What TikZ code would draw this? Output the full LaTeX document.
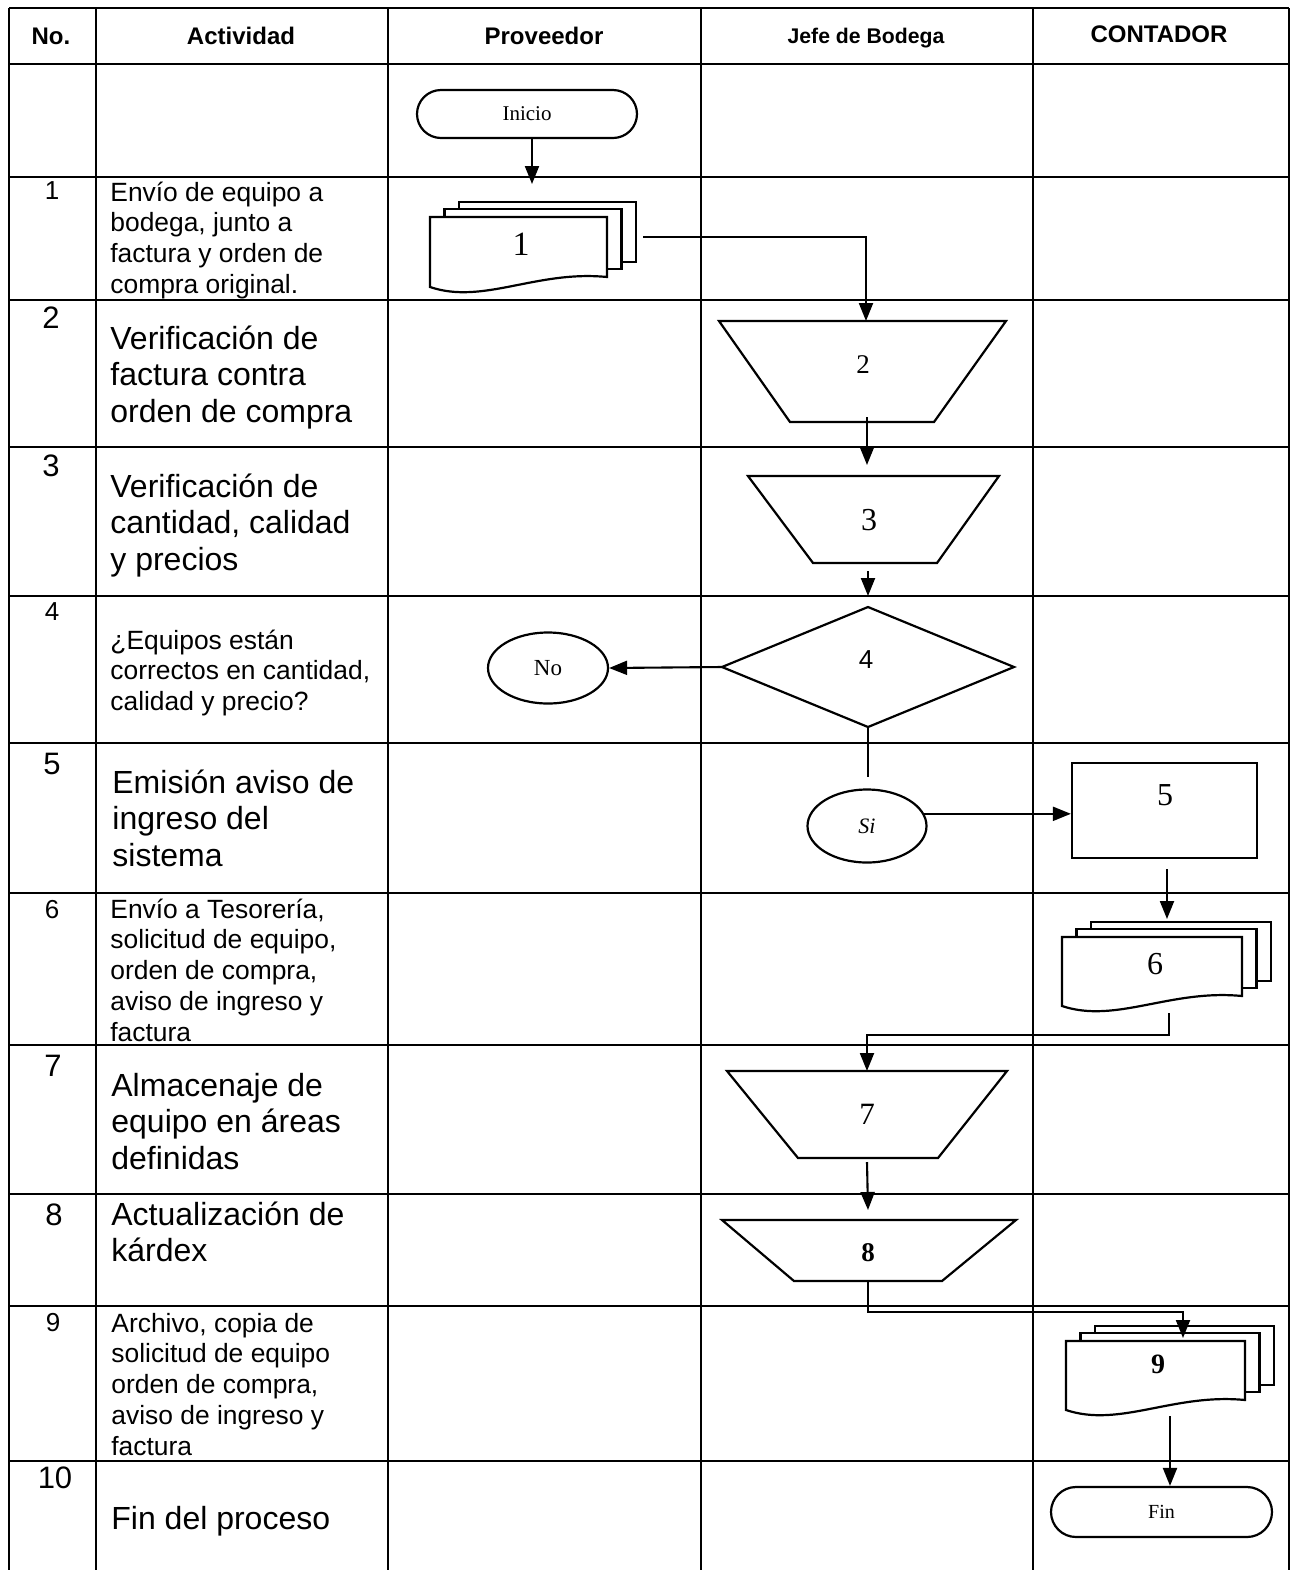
\documentclass[tikz,border=0pt]{standalone}
\usepackage{fontspec}
\setmainfont{Liberation Sans}
\newfontfamily\shapefont{Liberation Serif}
\usetikzlibrary{arrows.meta,shapes.geometric,calc}

% stack of three documents: x, y of the front page's top-left corner, width, right-side height
\newcommand\DocPile[4]{%
  \foreach \k in {2,1}{\draw[shp] ({#1+14.5*\k},{#2-7.7*\k}) rectangle ++(#3,#4);}
  \draw[shp] (#1,#2) -- ({#1+#3},#2) -- ({#1+#3},{#2+#4})
    .. controls ({#1+0.6*#3},{#2+#4-7}) and ({#1+0.3*#3},{#2+#4+28}) .. (#1,{#2+#4+10}) -- cycle;
}

\begin{document}
\begin{tikzpicture}[x=0.5pt,y=-0.5pt,
  grid/.style={line width=1.05pt},
  shp/.style={draw,line width=1.1pt,fill=white},
  arr/.style={line width=1.05pt,-{Triangle[length=9pt,width=7pt]}},
  conn/.style={line width=1.05pt},
  hdr/.style={anchor=base,inner sep=0,font=\bfseries\fontsize{12}{14}\selectfont},
  numbig/.style={inner sep=0,font=\fontsize{15.5}{15.5}\selectfont},
  numsm/.style={inner sep=0,font=\fontsize{13}{13}\selectfont},
  actbig/.style={anchor=north west,align=left,inner sep=0,font=\fontsize{16}{18.25}\selectfont},
  actsm/.style={anchor=north west,align=left,inner sep=0,font=\fontsize{13.2}{15.4}\selectfont},
  lbl/.style={inner sep=0,font={\shapefont\fontsize{#1}{#1}\selectfont}},
  hold/.style={inner sep=0,outer sep=0,minimum width=1pt},
  term/.style={shp,inner sep=0,font={\shapefont\fontsize{10.5}{10.5}\selectfont}},
  oval/.style={shp,ellipse,inner sep=0,font={\shapefont\fontsize{11.5}{11.5}\selectfont}},
]
\useasboundingbox (0,0) rectangle (1298,1570);
\fill[white] (0,0) rectangle (1298,1570);

% table rules
\foreach \x in {9,96,388,701,1033,1289} \draw[grid] (\x,8) -- (\x,1570);
\foreach \y in {8,64,177,300,447,596,743,893,1045,1194,1306,1461} \draw[grid] (9,\y) -- (1289,\y);

% headers
\node[hdr] (hno) at (51,44.5) {No.};
\node[hdr] (hact) at (241,44.5) {Actividad};
\node[hdr] (hprov) at (544,44.5) {Proveedor};
\node[hdr,font=\bfseries\fontsize{10.6}{12}\selectfont] (hjefe) at (866,43.5) {Jefe de Bodega};
\node[hdr] (hcont) at (1159,42) {CONTADOR};

% step numbers
\node[numsm] (n1) at (52,191) {1};
\node[numbig] (n2) at (51,318) {2};
\node[numbig] (n3) at (51,466) {3};
\node[numsm] (n4) at (52,612) {4};
\node[numbig] (n5) at (52,764) {5};
\node[numsm] (n6) at (52,910) {6};
\node[numbig] (n7) at (53,1066) {7};
\node[numbig] (n8) at (54,1215) {8};
\node[numsm] (n9) at (53,1323) {9};
\node[numbig] (n10) at (55,1478) {10};

% activities
\node[actsm] (a1) at (110,177) {\rule{0pt}{0.9em}Envío de equipo a\\bodega, junto a\\factura y orden de\\compra original.};
\node[actbig] (a2) at (110,320) {\rule{0pt}{0.9em}Verificación de\\factura contra\\orden de compra};
\node[actbig] (a3) at (110,468) {\rule{0pt}{0.9em}Verificación de\\cantidad, calidad\\y precios};
\node[actsm] (a4) at (110,625) {\rule{0pt}{0.9em}¿Equipos están\\correctos en cantidad,\\calidad y precio?};
\node[actbig] (a5) at (112,764) {\rule{0pt}{0.9em}Emisión aviso de\\ingreso del\\sistema};
\node[actsm] (a6) at (110,894) {\rule{0pt}{0.9em}Envío a Tesorería,\\solicitud de equipo,\\orden de compra,\\aviso de ingreso y\\factura};
\node[actbig] (a7) at (111,1067) {\rule{0pt}{0.9em}Almacenaje de\\equipo en áreas\\definidas};
\node[actbig] (a8) at (111,1196) {\rule{0pt}{0.9em}Actualización de\\kárdex};
\node[actsm] (a9) at (111,1308) {\rule{0pt}{0.9em}Archivo, copia de\\solicitud de equipo\\orden de compra,\\aviso de ingreso y\\factura};
\node[actbig] (a10) at (111,1500) {\rule{0pt}{0.9em}Fin del proceso};

% start
\node[term,rounded corners=12pt,minimum width=110pt,minimum height=24pt] (inicio) at (527,114) {Inicio};

% document 1
\DocPile{430}{217}{177}{60}
\node[lbl=17] (l1) at (521,244) {1};

% manual operations (trapezoids) with holders for their top and bottom
\draw[shp] (719,321) -- (1006,321) -- (934,422) -- (790,422) -- cycle;
\node[hold,minimum height=50.5pt] (t2) at (866,371.5) {};
\node[lbl=13.5] (l2) at (863,365) {2};

\draw[shp] (748,476) -- (999,476) -- (937,563) -- (813,563) -- cycle;
\node[hold,minimum height=43.5pt] (t3) at (868,519.5) {};
\node[lbl=16] (l3) at (869,520) {3};

% decision
\node[hold,minimum width=146pt,minimum height=60pt] (dia) at (868,667) {};
\draw[shp] (dia.north) -- (dia.east) -- (dia.south) -- (dia.west) -- cycle;
\node[inner sep=0,font=\fontsize{13}{13}\selectfont] (l4) at (866,660) {4};

\node[oval,minimum width=60pt,minimum height=35.5pt] (no) at (548,668) {No};
\node[oval,minimum width=59.5pt,minimum height=36.5pt,font={\shapefont\itshape\fontsize{11}{11}\selectfont}] (si) at (867,826) {Si};

% process 5
\node[shp,inner sep=0,minimum width=92.5pt,minimum height=47.5pt] (r5) at (1164.5,810.5) {};
\node[lbl=16] (l5) at (1165,795) {5};

% document 6
\DocPile{1062}{937}{180}{59}
\node[lbl=16] (l6) at (1155,964) {6};

% trapezoids 7 and 8
\draw[shp] (727,1071) -- (1007,1071) -- (938,1158) -- (798,1158) -- cycle;
\node[hold,minimum height=43.5pt] (t7) at (867,1114.5) {};
\node[lbl=15.5] (l7) at (867,1114) {7};

\draw[shp] (722,1220) -- (1016,1220) -- (942,1281) -- (794,1281) -- cycle;
\node[hold,minimum height=30.5pt] (t8) at (868,1250.5) {};
\node[lbl=13.5,font={\shapefont\bfseries\fontsize{13.5}{13.5}\selectfont}] (l8) at (868,1253) {8};

% document 9
\DocPile{1066}{1341}{179}{59}
\node[lbl=14,font={\shapefont\bfseries\fontsize{14}{14}\selectfont}] (l9) at (1158,1364) {9};

% end
\node[term,rounded corners=12.5pt,minimum width=110.5pt,minimum height=25pt,font={\shapefont\fontsize{10}{10}\selectfont}] (fin) at (1161.5,1512) {Fin};

% free ends of connectors
\coordinate (p1in) at (532,184);
\coordinate (p1out) at (643,237);
\coordinate (p6in) at (1167,919);
\coordinate (p6out) at (1169,1013);
\coordinate (p9in) at (1183,1338);
\coordinate (p9out) at (1170,1416);

% connectors
\draw[arr] (inicio.south -| p1in) -- (p1in);
\draw[arr] (p1out) -| (t2.north);
\draw[arr] ($(t2.south)+(1,-5)$) -- ($(t3.north)+(-1,-11)$);
\draw[arr] ($(t3.south)+(0,8)$) -- ($(dia.north)+(0,-11)$);
\draw[arr] (dia.west) -- (no.east);
\draw[conn] (dia.south) -- ($(dia.south)+(0,50)$);
\draw[arr] (si.12) -- (si.12 -| r5.west);
\draw[arr] ($(r5.south -| p6in)+(0,10)$) -- (p6in);
\draw[arr] (p6out) -- ++(0,22) -| (t7.north);
\draw[arr] ($(t7.south)+(0,4)$) -- ($(t8.north)+(0,-10)$);
\draw[arr] (t8.south) -- ++(0,31) -| (p9in);
\draw[arr] (p9out) -- (p9out |- fin.north);
\end{tikzpicture}
\end{document}
